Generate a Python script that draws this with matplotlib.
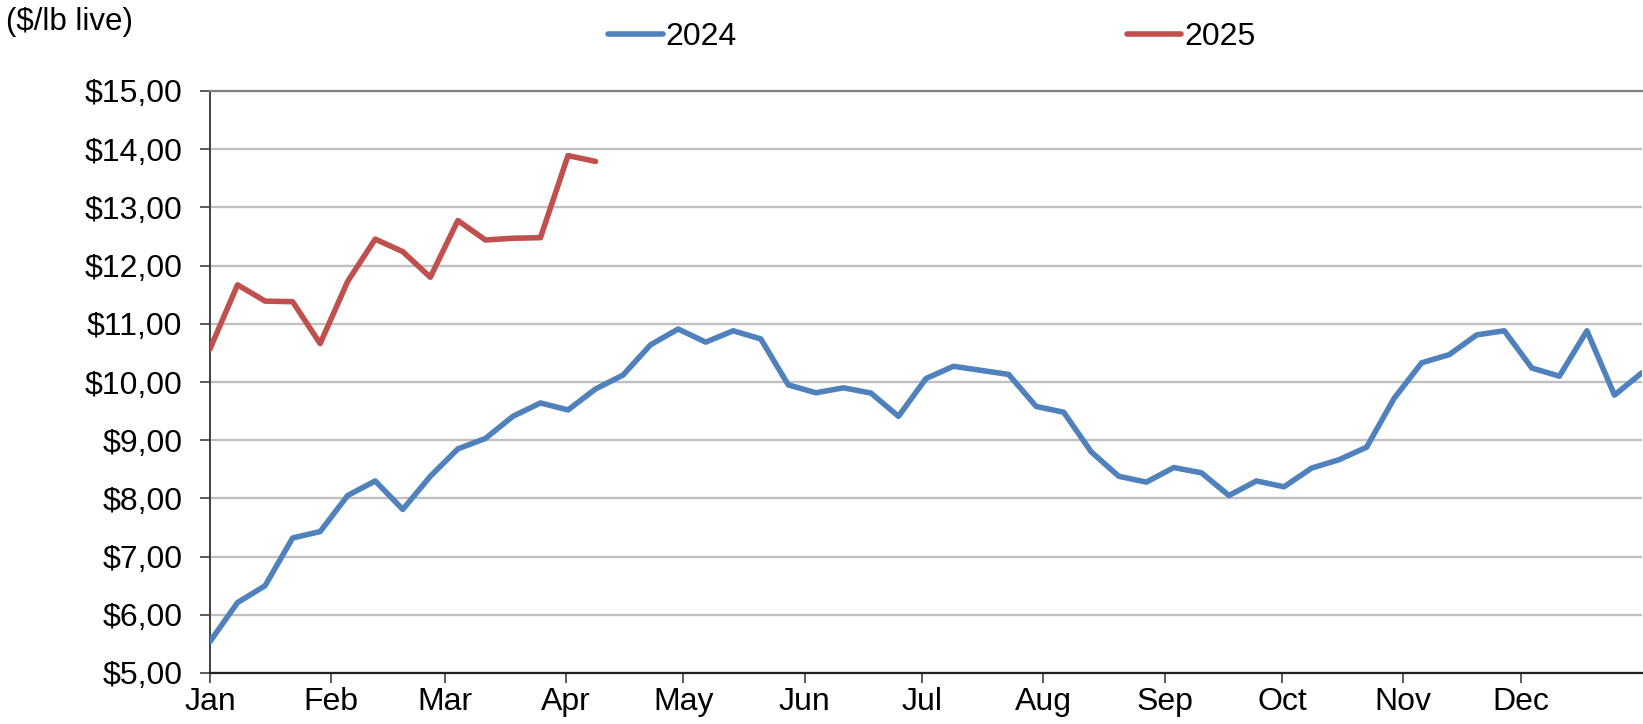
import matplotlib
matplotlib.use("Agg")
import matplotlib.pyplot as plt
import numpy as np
import pandas as pd
from matplotlib.ticker import FuncFormatter

# weekly live prices, $/lb
prices_2024 = [5.54, 6.21, 6.50, 7.32, 7.43, 8.05, 8.30, 7.81, 8.38, 8.85,
               9.03, 9.41, 9.64, 9.52, 9.88, 10.12, 10.64, 10.91, 10.685, 10.88,
               10.74, 9.95, 9.815, 9.90, 9.81, 9.41, 10.06, 10.27, 10.20, 10.13,
               9.58, 9.48, 8.80, 8.38, 8.28, 8.53, 8.44, 8.05, 8.30, 8.20,
               8.52, 8.665, 8.88, 9.72, 10.33, 10.47, 10.81, 10.88, 10.24, 10.10,
               10.88, 9.775, 10.16]
prices_2025 = [10.57, 11.67, 11.39, 11.38, 10.66, 11.73, 12.455, 12.24, 11.80, 12.775,
               12.44, 12.47, 12.48, 13.89, 13.79]
series_names = ["2024", "2025"]
month_labels = ["Jan", "Feb", "Mar", "Apr", "May", "Jun",
                "Jul", "Aug", "Sep", "Oct", "Nov", "Dec"]

BLUE, RED = "#4f81bd", "#c0504d"
FONT = ["Liberation Sans", "DejaVu Sans"]
plt.rcParams["font.family"] = FONT

fig = plt.figure(figsize=(16.43, 7.24), dpi=100)
ax = fig.add_axes([210 / 1643, 51 / 724, 1432 / 1643, 582 / 724])

n_weeks = len(prices_2024)
ax.plot(np.arange(n_weeks), prices_2024, color=BLUE, lw=4,
        solid_capstyle="round", solid_joinstyle="round", label=series_names[0], zorder=3)
ax.plot(np.arange(len(prices_2025)), prices_2025, color=RED, lw=4,
        solid_capstyle="round", solid_joinstyle="round", label=series_names[1], zorder=3)

# month ticks placed by day of (leap) year on the weekly category axis
month_days = pd.date_range("2024-01-01", periods=12, freq="MS").dayofyear - 1
ax.set_xticks(month_days / 366 * (n_weeks - 1))
ax.set_xticklabels(month_labels)
ax.set_xlim(0, n_weeks - 1)

ax.set_ylim(5, 15)
ax.set_yticks(np.arange(5, 16, 1))
ax.yaxis.set_major_formatter(FuncFormatter(lambda v, _: f"${v:.2f}".replace(".", ",")))

ax.grid(axis="y", color="#c0c0c0", lw=1.7, zorder=1)
ax.set_axisbelow(True)
ax.spines["right"].set_visible(False)
ax.spines["top"].set_color("#808080")
ax.spines["top"].set_linewidth(1.6)
ax.spines["left"].set_color("#404040")
ax.spines["left"].set_linewidth(1.4)
ax.spines["bottom"].set_color("#202020")
ax.spines["bottom"].set_linewidth(1.6)

ax.tick_params(axis="y", direction="out", length=7, width=1.2, color="#404040",
               labelsize=23, pad=13)
ax.tick_params(axis="x", direction="out", length=7, width=1.2, color="#404040",
               labelsize=23, pad=3)

fig.text(6 / 1643, 1 - 22 / 724, "($/lb live)", fontsize=22.5, va="center", ha="left")

fig.legend(loc="center", bbox_to_anchor=(932 / 1643, 1 - 37 / 724), ncol=2,
           frameon=False, fontsize=23, handlelength=1.7, handletextpad=0.1,
           columnspacing=12.2)

fig.savefig("out.png", dpi=100)
